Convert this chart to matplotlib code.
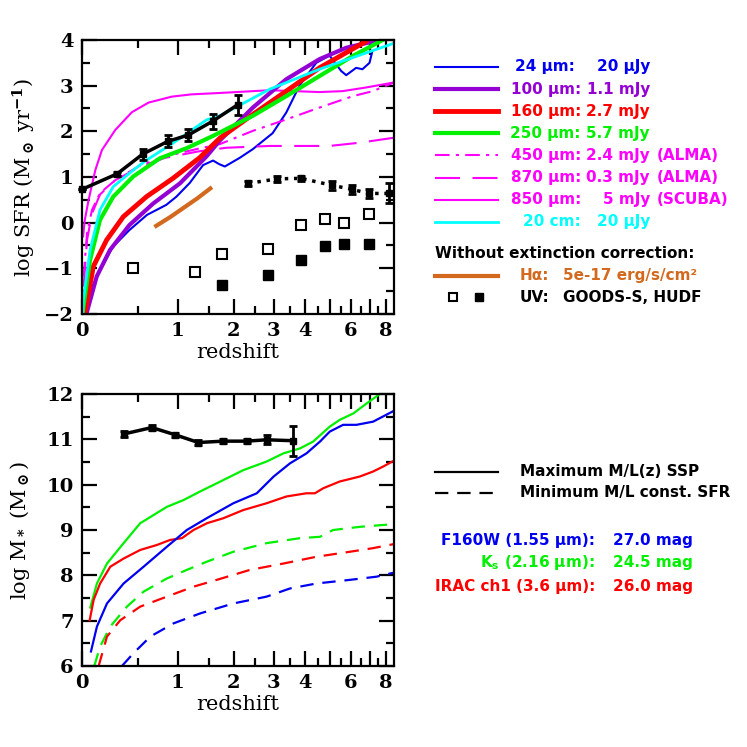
import numpy as np
import matplotlib
matplotlib.use('Agg')
import matplotlib.pyplot as plt
from matplotlib.lines import Line2D

plt.rcParams['font.family'] = ['DejaVu Serif']
plt.rcParams['font.weight'] = 'bold'
plt.rcParams['mathtext.fontset'] = 'dejavuserif'

# ---- top panel: log SFR limits vs redshift ----
z24 = [0.034, 0.07, 0.14, 0.25, 0.41, 0.60, 0.84, 0.98, 1.18, 1.40, 1.58, 1.70, 1.81, 2.13, 2.44, 2.97, 3.38, 3.82, 4.44, 4.99, 5.52, 5.76, 6.26, 6.60, 7.00, 7.17]
sfr24 = [-1.98, -1.45, -1.04, -0.53, -0.16, 0.17, 0.39, 0.57, 0.87, 1.26, 1.36, 1.28, 1.23, 1.42, 1.61, 1.96, 2.41, 3.00, 3.50, 3.66, 3.32, 3.23, 3.39, 3.36, 3.50, 3.76]
z100 = [0.034, 0.112, 0.224, 0.41, 0.674, 1.03, 1.46, 1.71, 2.44, 3.38, 4.57, 5.76, 7.6]
sfr100 = [-1.98, -1.18, -0.60, -0.05, 0.42, 0.86, 1.45, 1.80, 2.52, 3.14, 3.58, 3.83, 4.0]
z160 = [0.022, 0.085, 0.195, 0.348, 0.595, 0.93, 1.34, 1.71, 2.44, 3.38, 4.57, 6.8]
sfr160 = [-1.98, -0.96, -0.38, 0.13, 0.57, 0.97, 1.42, 1.85, 2.37, 2.88, 3.39, 3.97]
z250 = [0.005, 0.01, 0.06, 0.139, 0.254, 0.448, 0.756, 1.13, 1.58, 2.44, 3.38, 4.57, 6.09, 7.8]
sfr250 = [-2.0, -1.84, -0.82, 0.06, 0.57, 1.01, 1.41, 1.63, 1.90, 2.34, 2.77, 3.21, 3.65, 4.0]
z450 = [0.012, 0.037, 0.075, 0.14, 0.272, 0.52, 0.824, 1.32, 1.71, 2.44, 3.38, 4.57, 6.09, 7.19, 8.55]
sfr450 = [-1.18, -0.23, 0.28, 0.65, 0.93, 1.25, 1.45, 1.62, 1.72, 2.01, 2.26, 2.52, 2.77, 2.88, 3.07]
z870 = [0.012, 0.037, 0.075, 0.14, 0.272, 0.52, 0.824, 1.32, 1.84, 2.88, 4.99, 6.44, 8.55]
sfr870 = [-1.4, -0.38, 0.2, 0.62, 0.93, 1.22, 1.42, 1.56, 1.64, 1.68, 1.68, 1.75, 1.86]
z850 = [0.008, 0.02, 0.049, 0.101, 0.155, 0.272, 0.435, 0.619, 0.915, 1.21, 1.71, 2.88, 4.57, 5.58, 6.8, 8.55]
sfr850 = [-0.3, 0.05, 0.50, 1.15, 1.59, 2.03, 2.42, 2.63, 2.76, 2.81, 2.84, 2.90, 2.86, 2.88, 2.96, 3.07]
z20cm = [0.005, 0.01, 0.06, 0.139, 0.254, 0.448, 0.595, 0.93, 1.46, 1.71, 2.88, 4.57, 8.55]
sfr20cm = [-2.0, -1.69, -0.60, 0.28, 0.79, 1.15, 1.37, 1.74, 2.25, 2.34, 2.92, 3.36, 3.93]

z_obs = [0.0, 0.29, 0.55, 0.86, 1.16, 1.57, 2.08]
sfr_obs = [0.73, 1.07, 1.50, 1.78, 1.92, 2.22, 2.58]
err_obs = [0.0, 0.05, 0.12, 0.13, 0.14, 0.16, 0.22]
z_hiz = [2.33, 3.11, 3.88, 5.09, 6.04, 6.96, 8.19]
sfr_hiz = [0.86, 0.96, 0.97, 0.82, 0.73, 0.64, 0.64]
err_hiz = [0.05, 0.06, 0.05, 0.1, 0.1, 0.1, 0.22]

z_goods = [0.45, 1.27, 1.75, 2.85, 3.88, 4.78, 5.67, 6.96]
sfr_goods = [-0.99, -1.09, -0.69, -0.57, -0.05, 0.07, 0.0, 0.20]
z_hudf = [1.75, 2.85, 3.88, 4.78, 5.67, 6.96]
sfr_hudf = [-1.36, -1.15, -0.82, -0.51, -0.47, -0.47]
z_ha = [0.71, 0.9, 1.1, 1.3, 1.53]
sfr_ha = [-0.07, 0.13, 0.34, 0.53, 0.75]

# ---- bottom panel: log stellar mass limits ----
z_mobs = [0.357, 0.657, 0.962, 1.32, 1.78, 2.29, 2.80, 3.585]
m_obs = [11.12, 11.26, 11.10, 10.93, 10.96, 10.96, 10.99, 10.97]
m_err = [0.07, 0.06, 0.05, 0.06, 0.04, 0.04, 0.1, 0.33]

z_ks_max = [0.062, 0.114, 0.198, 0.351, 0.524, 0.847, 1.083, 1.35, 1.65, 2.21, 2.80, 3.29, 3.84, 4.32, 5.00, 5.45, 6.11, 6.83, 7.62]
m_ks_max = [7.29, 7.82, 8.26, 8.71, 9.15, 9.51, 9.66, 9.85, 10.03, 10.32, 10.51, 10.69, 10.80, 10.95, 11.28, 11.43, 11.57, 11.79, 12.0]
z_irac_max = [0.057, 0.088, 0.14, 0.227, 0.351, 0.524, 0.72, 0.89, 1.06, 1.24, 1.47, 1.78, 2.21, 2.80, 3.39, 4.07, 4.39, 4.72, 5.45, 6.46, 7.21, 7.83, 8.55]
m_irac_max = [7.01, 7.46, 7.82, 8.19, 8.37, 8.56, 8.67, 8.78, 8.82, 9.0, 9.15, 9.26, 9.44, 9.59, 9.74, 9.81, 9.81, 9.92, 10.07, 10.18, 10.29, 10.40, 10.53]
z_f160_max = [0.067, 0.114, 0.198, 0.351, 0.561, 0.847, 1.134, 1.465, 1.988, 2.54, 3.0, 3.50, 4.07, 4.59, 5.0, 5.61, 6.28, 7.21, 8.55]
m_f160_max = [6.32, 6.87, 7.38, 7.82, 8.19, 8.63, 9.0, 9.26, 9.59, 9.81, 10.18, 10.47, 10.69, 10.95, 11.17, 11.32, 11.32, 11.39, 11.63]

z_ks_min = [0.093, 0.14, 0.227, 0.384, 0.561, 0.847, 1.134, 1.465, 1.988, 2.80, 3.84, 4.59, 5.15, 6.46, 8.55]
m_ks_min = [6.0, 6.43, 6.87, 7.31, 7.64, 7.93, 8.12, 8.30, 8.52, 8.71, 8.82, 8.85, 9.0, 9.07, 9.13]
z_irac_min = [0.128, 0.198, 0.319, 0.524, 0.847, 1.24, 1.65, 2.37, 3.29, 4.45, 5.94, 7.21, 8.55]
m_irac_min = [6.0, 6.65, 7.01, 7.31, 7.53, 7.75, 7.90, 8.12, 8.26, 8.41, 8.52, 8.60, 8.69]
z_f160_min = [0.335, 0.45, 0.64, 0.938, 1.35, 1.99, 2.80, 3.50, 4.45, 5.94, 7.41, 8.55]
m_f160_min = [6.0, 6.28, 6.65, 6.94, 7.16, 7.38, 7.53, 7.71, 7.82, 7.90, 7.97, 8.06]

zmajor = [0, 1, 2, 3, 4, 5, 6, 7, 8]
zlabels = ['0', '1', '2', '3', '4', '', '6', '', '8']
zminor = [0.5, 1.5, 2.5, 3.5, 4.5, 5.5, 6.5, 7.5]

BLUE = '#0000f0'
PURPLE = '#9400d3'
RED = '#ff0000'
GREEN = '#00f000'
MAG = '#ff00ff'
CYAN = '#00ffff'
BROWN = '#d2691e'


def lz(z):
    return np.log10(1 + np.asarray(z, dtype=float))


W = 747.0


def fpos(x, y):
    return x / W, 1 - y / W


def style_axes(ax, ymin, ymax):
    ax.set_xlim(0, lz(8.55))
    ax.set_ylim(ymin, ymax)
    ax.set_xticks(lz(zmajor))
    ax.set_xticklabels(zlabels)
    ax.set_xticks(lz(zminor), minor=True)
    ax.set_yticks(np.arange(ymin, ymax + 0.1, 1))
    ax.set_yticklabels([('%d' % v).replace('-', '\u2212') for v in np.arange(ymin, ymax + 0.1, 1)])
    ax.set_yticks(np.arange(ymin + 0.5, ymax, 1), minor=True)
    ax.tick_params(which='both', direction='in', top=True, right=True, width=1.6, labelsize=14, pad=6)
    ax.tick_params(which='major', length=11)
    ax.tick_params(which='minor', length=6)
    for s in ax.spines.values():
        s.set_linewidth(1.6)
    ax.set_xlabel('redshift', fontsize=15, labelpad=2)


fig = plt.figure(figsize=(7.47, 7.47), dpi=100)
ax1 = fig.add_axes([82 / W, 1 - 314 / W, 312 / W, 274 / W])
ax2 = fig.add_axes([82 / W, 1 - 666 / W, 312 / W, 272 / W])

# top panel curves
ax1.plot(lz(z24), sfr24, color=BLUE, lw=1.5)
ax1.plot(lz(z850), sfr850, color=MAG, lw=1.5)
ax1.plot(lz(z450), sfr450, color=MAG, lw=1.5, dashes=(7, 3, 1.5, 3))
ax1.plot(lz(z870), sfr870, color=MAG, lw=1.5, dashes=(12, 6))
ax1.plot(lz(z100), sfr100, color=PURPLE, lw=3)
ax1.plot(lz(z160), sfr160, color=RED, lw=3.5)
ax1.plot(lz(z250), sfr250, color=GREEN, lw=3)
ax1.plot(lz(z20cm), sfr20cm, color=CYAN, lw=2)
ax1.plot(lz(z_ha), sfr_ha, color=BROWN, lw=3)
ax1.errorbar(lz(z_obs), sfr_obs, yerr=err_obs, color='k', lw=2.5, marker='s', ms=4,
             capsize=3, capthick=2, elinewidth=2, clip_on=False, zorder=5)
ax1.errorbar(lz(z_hiz), sfr_hiz, yerr=err_hiz, color='k', lw=2.5, ls=':', marker='s', ms=4,
             capsize=3, capthick=2, elinewidth=2, zorder=5)
ax1.plot(lz(z_goods), sfr_goods, ls='none', marker='s', ms=7, mfc='white', mec='k', mew=1.5)
ax1.plot(lz(z_hudf), sfr_hudf, ls='none', marker='s', ms=7, mfc='k', mec='k')
style_axes(ax1, -2, 4)
ax1.set_ylabel(r'log SFR (M$_\odot$ yr$^{-1}$)', fontsize=15, labelpad=4)

# bottom panel curves
ax2.errorbar(lz(z_mobs), m_obs, yerr=m_err, color='k', lw=2.5, marker='s', ms=4,
             capsize=3, capthick=2, elinewidth=2, zorder=5)
ax2.plot(lz(z_ks_max), m_ks_max, color=GREEN, lw=1.6)
ax2.plot(lz(z_irac_max), m_irac_max, color=RED, lw=1.6)
ax2.plot(lz(z_f160_max), m_f160_max, color=BLUE, lw=1.6)
ax2.plot(lz(z_ks_min), m_ks_min, color=GREEN, lw=1.6, dashes=(6, 4))
ax2.plot(lz(z_irac_min), m_irac_min, color=RED, lw=1.6, dashes=(6, 4))
ax2.plot(lz(z_f160_min), m_f160_min, color=BLUE, lw=1.6, dashes=(6, 4))
style_axes(ax2, 6, 12)
ax2.set_ylabel(r'log M$_*$ (M$_\odot$)', fontsize=15, labelpad=10)

# ---- right-hand legends ----
leg_font = dict(family='DejaVu Sans', weight='bold', fontsize=11, math_fontfamily='dejavusans')
rows = [
    ('24 \u00b5m:', '20 \u00b5Jy', '', BLUE, 1.5, None, 575),
    ('100 \u00b5m:', '1.1 mJy', '', PURPLE, 3, None, 581),
    ('160 \u00b5m:', '2.7 mJy', '', RED, 3.5, None, 581),
    ('250 \u00b5m:', '5.7 mJy', '', GREEN, 3, None, 581),
    ('450 \u00b5m:', '2.4 mJy', '(ALMA)', MAG, 1.5, (7, 3, 1.5, 3), 581),
    ('870 \u00b5m:', '0.3 mJy', '(ALMA)', MAG, 1.5, (12, 6), 581),
    ('850 \u00b5m:', '5 mJy', '(SCUBA)', MAG, 1.5, None, 581),
    ('20 cm:', '20 \u00b5Jy', '', CYAN, 2, None, 581),
]
y = 67
for lab, val, suf, col, lw, dash, xr in rows:
    ln = Line2D([435 / W, 498 / W], [1 - y / W, 1 - y / W], color=col, lw=lw, transform=fig.transFigure)
    if dash is not None:
        ln.set_dashes(dash)
    fig.add_artist(ln)
    fig.text(*fpos(xr, y), lab, color=col, ha='right', va='center', **leg_font)
    fig.text(*fpos(650, y), val, color=col, ha='right', va='center', **leg_font)
    if suf:
        fig.text(*fpos(657, y), suf, color=col, ha='left', va='center', **leg_font)
    y += 22.1

fig.text(*fpos(435, 253), 'Without extinction correction:', color='k', ha='left', va='center', **leg_font)
fig.add_artist(Line2D([435 / W, 498 / W], [1 - 276 / W, 1 - 276 / W], color=BROWN, lw=3, transform=fig.transFigure))
fig.text(*fpos(520, 276), 'H\u03b1:', color=BROWN, ha='left', va='center', **leg_font)
fig.text(*fpos(563, 276), '5e-17 erg/s/cm\u00b2', color=BROWN, ha='left', va='center', **leg_font)
fig.add_artist(Line2D([453 / W], [1 - 297 / W], ls='none', marker='s', ms=6, mfc='white', mec='k', mew=1.5,
                      transform=fig.transFigure))
fig.add_artist(Line2D([479 / W], [1 - 297 / W], ls='none', marker='s', ms=6, mfc='k', mec='k',
                      transform=fig.transFigure))
fig.text(*fpos(520, 297), 'UV:', color='k', ha='left', va='center', **leg_font)
fig.text(*fpos(563, 297), 'GOODS-S, HUDF', color='k', ha='left', va='center', **leg_font)

fig.add_artist(Line2D([435 / W, 498 / W], [1 - 472 / W, 1 - 472 / W], color='k', lw=1.6, transform=fig.transFigure))
fig.text(*fpos(520, 472), 'Maximum M/L(z) SSP', color='k', ha='left', va='center', **leg_font)
dl = Line2D([435 / W, 498 / W], [1 - 493 / W, 1 - 493 / W], color='k', lw=1.6, transform=fig.transFigure)
dl.set_dashes((6, 4))
fig.add_artist(dl)
fig.text(*fpos(520, 493), 'Minimum M/L const. SFR', color='k', ha='left', va='center', **leg_font)

mass_rows = [
    ('F160W (1.55 \u00b5m):', '27.0 mag', BLUE, 540),
    ('K$_\\mathbf{s}$ (2.16 \u00b5m):', '24.5 mag', GREEN, 563),
    ('IRAC ch1 (3.6 \u00b5m):', '26.0 mag', RED, 587),
]
for lab, val, col, yy in mass_rows:
    fig.text(*fpos(595, yy), lab, color=col, ha='right', va='center', **leg_font)
    fig.text(*fpos(613, yy), val, color=col, ha='left', va='center', **leg_font)

fig.savefig('out.png', dpi=100)
